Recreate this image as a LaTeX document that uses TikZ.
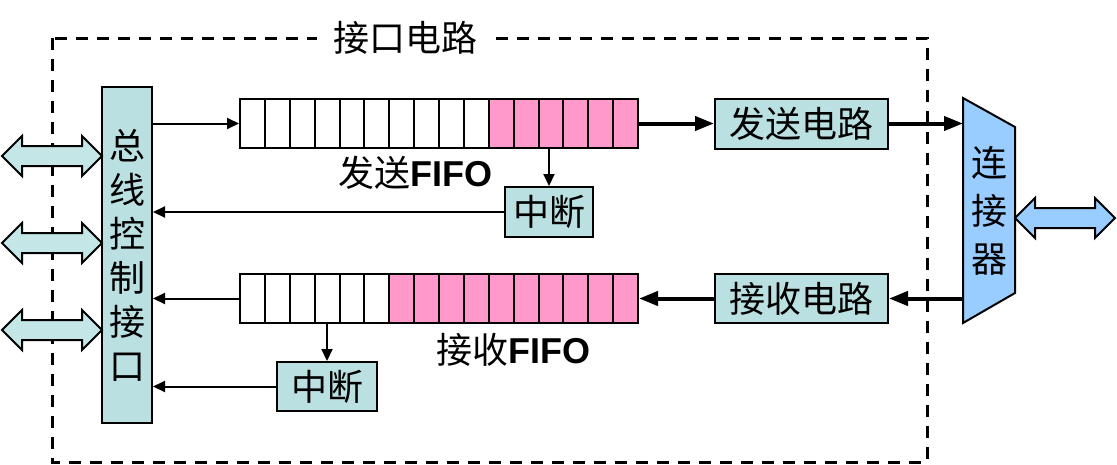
\documentclass[tikz,border=0pt]{standalone}
\usepackage{fontspec}
\setmainfont{Liberation Sans}
\newfontfamily\cjk{Noto Sans CJK SC}
\usetikzlibrary{arrows.meta}
\definecolor{boxteal}{HTML}{BAE0E2}
\definecolor{arrteal}{HTML}{C4E6E6}
\definecolor{fifopink}{HTML}{FF99CC}
\definecolor{connblue}{HTML}{99CCFF}
\tikzset{
	box/.style={draw,line width=2pt,fill=boxteal,inner sep=0pt,font=\cjk\fontsize{36}{44}\selectfont},
	thinarr/.style={line width=2pt,-{Triangle[length=12pt,width=11pt]}},
	thickarr/.style={line width=4pt,-{Triangle[length=19pt,width=14pt]}},
	fifobox/.style={draw,line width=2pt,minimum width=398pt,minimum height=49pt,inner sep=0pt},
	lbl/.style={font=\fontsize{36}{40}\selectfont}
}
\newcommand{\dblarrow}[4]{%
	\draw[line width=2pt,fill=#4] (#1,#3) -- (#1+20,#3-20) -- (#1+20,#3-10) -- (#2-20,#3-10) -- (#2-20,#3-20) -- (#2,#3) -- (#2-20,#3+20) -- (#2-20,#3+10) -- (#1+20,#3+10) -- (#1+20,#3+20) -- cycle;}
\begin{document}
\begin{tikzpicture}[x=1pt,y=-1pt]
			\useasboundingbox (0,0) rectangle (1117,464);
			\draw[line width=3pt,dash pattern=on 12pt off 9pt] (52,38) rectangle (927,462);
			\node[fill=white,inner xsep=16pt,lbl] (title) at (405,38) {\cjk 接口电路};

			\node[box,align=center,minimum width=50pt,minimum height=336pt] (bus) at (127,255) {总\\线\\控\\制\\接\\口};
			\dblarrow{2}{102}{156}{arrteal}
			\dblarrow{2}{102}{243}{arrteal}
			\dblarrow{2}{102}{330}{arrteal}

			\foreach \i in {10,...,15} \fill[fifopink] (240+\i*24.875,99) rectangle ++(24.875,49);
			\foreach \i in {1,...,15} \draw[line width=2pt] (240+\i*24.875,99) -- ++(0,49);
			\node[fifobox] (txfifo) at (439,123.5) {};
			\node[lbl] (txlbl) at (415,173) {{\cjk 发送}\textbf{FIFO}};

			\foreach \i in {6,...,15} \fill[fifopink] (240+\i*24.875,274) rectangle ++(24.875,49);
			\foreach \i in {1,...,15} \draw[line width=2pt] (240+\i*24.875,274) -- ++(0,49);
			\node[fifobox] (rxfifo) at (439,298.5) {};
			\node[lbl] (rxlbl) at (513,350) {{\cjk 接收}\textbf{FIFO}};

			\node[box,minimum width=88pt,minimum height=50pt] (txint) at (549,212) {中断};
			\node[box,minimum width=100pt,minimum height=49pt] (rxint) at (327,386.5) {中断};
			\node[box,minimum width=173pt,minimum height=50pt] (txckt) at (801.5,123.5) {发送电路};
			\node[box,minimum width=173pt,minimum height=49pt] (rxckt) at (801.5,298.5) {接收电路};

			\draw[line width=2pt,fill=connblue] (963,98) -- (1015,127) -- (1015,293) -- (963,323) -- cycle;
			\node[align=center,font=\cjk\fontsize{36}{48}\selectfont] (conn) at (989,211) {连\\接\\器};
			\coordinate (connl) at (963,211);
			\dblarrow{1015}{1115}{218}{connblue}

			\draw[thinarr] (bus.east |- txfifo.west) -- (txfifo.west);
			\draw[thinarr] (txint.north |- txfifo.south) -- (txint.north);
			\draw[thinarr] (txint.west) -- (txint.west -| bus.east);
			\draw[thickarr] (txfifo.east) -- (txckt.west);
			\draw[thickarr] (txckt.east) -- (txckt.east -| connl);
			\draw[thickarr] (rxckt.east -| connl) -- (rxckt.east);
			\draw[thickarr] (rxckt.west) -- (rxfifo.east);
			\draw[thinarr] (rxfifo.west) -- (rxfifo.west -| bus.east);
			\draw[thinarr] (rxint.north |- rxfifo.south) -- (rxint.north);
			\draw[thinarr] (rxint.west) -- (rxint.west -| bus.east);
\end{tikzpicture}
\end{document}
